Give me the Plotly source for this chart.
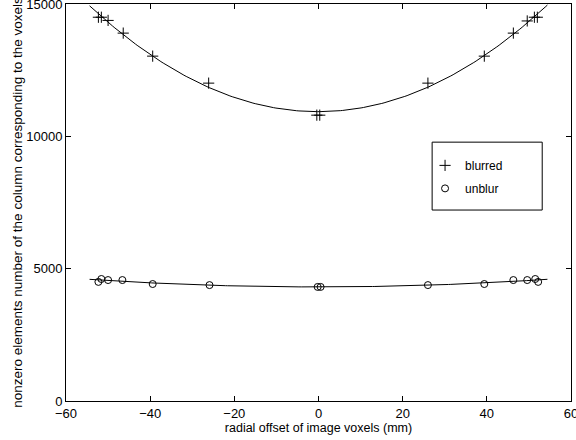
import numpy as np
import plotly.graph_objects as go

# radial offsets (mm) and nonzero counts
x_blurred = [-52.3, -51.6, -50.0, -46.4, -39.4, -26.1, -0.4, 0.3, 26.0, 39.4, 46.3, 49.6, 51.3, 52.0]
y_blurred = [14500, 14500, 14380, 13900, 13030, 12010, 10800, 10800, 12010, 13030, 13900, 14360, 14500, 14500]

x_unblur = [-52.3, -51.6, -50.0, -46.6, -39.4, -25.9, -0.2, 0.5, 26.0, 39.4, 46.3, 49.6, 51.5, 52.2]
y_unblur = [4500, 4610, 4570, 4570, 4420, 4380, 4310, 4310, 4380, 4420, 4570, 4570, 4610, 4500]

fit_range = [-54.4, 54.4]

y_ticks = [0, 5000, 10000, 15000]
x_ticks = [-60, -40, -20, 0, 20, 40, 60]

xf = np.linspace(fit_range[0], fit_range[1], 200)
cb = np.polyfit(x_blurred, y_blurred, 2)
cu = np.polyfit(x_unblur, y_unblur, 2)

fig = go.Figure()
fig.add_trace(go.Scatter(x=xf, y=np.polyval(cb, xf), mode="lines",
                         line=dict(color="black", width=1), showlegend=False, hoverinfo="skip"))
fig.add_trace(go.Scatter(x=xf, y=np.polyval(cu, xf), mode="lines",
                         line=dict(color="black", width=1), showlegend=False, hoverinfo="skip"))
fig.add_trace(go.Scatter(x=x_blurred, y=y_blurred, mode="markers", name="blurred", legendgroup="b",
                         marker=dict(symbol="cross-thin", size=8, line=dict(color="black", width=1), color="black")))
fig.add_trace(go.Scatter(x=x_unblur, y=y_unblur, mode="markers", name="unblur", legendgroup="u",
                         marker=dict(symbol="circle-open", size=7, line=dict(color="black", width=1), color="black")))

axis_common = dict(showline=True, linecolor="black", linewidth=1, mirror="ticks",
                   ticks="inside", ticklen=5, tickcolor="black", showgrid=False, zeroline=False,
                   tickfont=dict(size=13, color="black"), ticklabeloverflow="allow", automargin=False)

fig.update_xaxes(range=[-60, 60], tickvals=x_ticks, ticktext=[str(v).replace("-", "\u2212") for v in x_ticks],
                 title=dict(text="radial offset of image voxels (mm)", font=dict(size=12.5, color="black"), standoff=0),
                 **axis_common)
fig.update_yaxes(range=[0, 15000], tickvals=y_ticks, ticktext=[str(v) for v in y_ticks],
                 title=dict(text="nonzero elements number of the column corresponding to the voxels",
                            font=dict(size=13.5, color="black"), standoff=0),
                 **axis_common)

fig.add_shape(type="rect", xref="paper", yref="paper", x0=0.725, x1=0.943, y0=0.481, y1=0.652,
              line=dict(color="black", width=1), fillcolor="white", layer="below")

fig.update_layout(
    width=576, height=440,
    margin=dict(l=66, r=5, t=4, b=39),
    paper_bgcolor="white", plot_bgcolor="white",
    font=dict(family="Liberation Sans, Arial, sans-serif", color="black"),
    legend=dict(x=0.711, y=0.63, xanchor="left", yanchor="top", bgcolor="rgba(0,0,0,0)",
                borderwidth=0, font=dict(size=12), tracegroupgap=4),
)

fig.write_html("out.html")
